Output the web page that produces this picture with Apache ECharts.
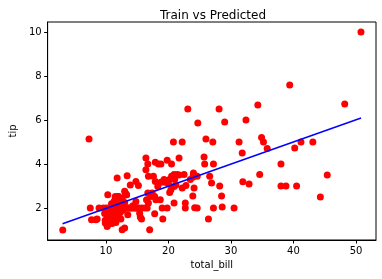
<!DOCTYPE html>
<html><head><meta charset="utf-8">
<script src="https://cdn.jsdelivr.net/npm/echarts@6/dist/echarts.min.js"></script>
<style>html,body{margin:0;padding:0;background:#fff}#c{width:382px;height:279px}</style>
</head><body><div id="c"></div>
<script>
var totalBill = [50.8,39.4,48.2,34.3,23.1,28.1,32.4,24.7,29.0,26.0,34.9,35.2,31.3,27.1,20.8,22.2,41.2,43.1,35.8,40.2,31.8,25.7,21.7,16.4,38.0,25.8,27.2,20.5,16.7,19.8,17.9,18.4,18.8,34.6,45.4,31.9,32.9,38.0,38.8,40.5,44.3,30.5,27.2,28.6,26.4,28.5,28.2,26.6,26.9,24.0,24.1,23.9,24.2,24.6,22.7,22.7,20.9,20.9,22.8,22.2,22.5,24.0,24.6,20.9,19.0,19.8,19.1,17.0,12.6,13.0,17.8,15.5,15.7,13.5,12.4,3.1,7.3,7.5,7.7,8.6,8.9,10.3,11.8,13.4,13.9,14.8,15.2,13.0,11.5,12.6,16.4,16.8,17.6,17.9,18.3,18.8,19.4,19.7,20.1,20.5,21.4,20.4,20.2,21.2,17.4,17.8,18.0,18.7,16.7,17.2,16.5,16.8,16.2,16.6,14.9,15.2,15.7,9.6,9.8,9.9,9.9,10.1,10.2,10.2,10.3,10.4,10.5,10.6,10.7,10.8,10.9,11.0,11.1,11.2,11.3,11.4,11.5,11.6,11.7,11.9,12.0,12.2,12.3,12.5,12.7,12.9,13.1,13.4,13.6,13.9,14.1,14.4,14.7,10.4,10.9,11.3,12.1,12.5,13.0,14.3,11.0,11.6,12.0,13.3,15.4,14.8,8.4,11.5,12.0,13.1,13.3,21.7,23.5,23.9,19.3,20.0,21.0];
var tipValue  = [10.0,7.59,6.73,6.68,6.5,6.5,6.0,5.86,5.91,5.14,5.2,5.0,5.0,5.0,5.0,5.0,5.0,5.0,4.7,4.73,4.5,4.32,4.27,4.27,4.0,4.0,4.0,4.0,4.0,4.17,4.08,4.0,4.0,3.53,3.5,3.2,3.09,3.0,3.0,3.0,2.5,2.0,2.0,2.05,1.5,2.55,3.0,3.44,3.14,3.59,2.91,2.55,2.02,2.0,2.23,2.0,2.23,2.98,3.02,2.91,3.52,3.52,3.44,3.52,2.0,2.0,1.5,1.02,1.02,1.09,1.74,1.59,1.5,1.7,1.5,1.0,5.14,2.0,1.47,1.5,2.0,2.6,3.36,3.47,3.05,3.21,3.02,2.76,2.53,2.45,3.74,3.44,3.44,3.21,2.98,3.17,3.17,3.21,3.29,3.44,3.52,2.83,2.71,3.05,2.68,2.53,2.38,2.38,2.68,2.53,2.38,2.23,2.0,2.0,2.0,2.0,2.0,2.0,1.75,1.45,1.32,2.0,1.66,1.16,1.5,1.25,2.0,1.6,1.83,2.0,1.5,1.7,2.0,1.44,1.83,2.0,1.56,2.2,1.75,2.0,1.58,2.0,1.8,2.0,1.9,2.0,2.0,2.0,2.0,2.0,2.0,2.0,2.0,1.9,2.2,2.3,2.2,2.3,2.25,2.1,1.3,1.35,2.53,2.6,1.77,2.3,1.47,2.45,2.53,2.68,2.6,3.5,3.3,3.4,3.3,3.1,3.3];
var lineBill = [3.07, 50.81];
var lineTip = [1.29, 6.09];
var xTicks = [10, 20, 30, 40, 50];
var yTicks = [2, 4, 6, 8, 10];

var pts = totalBill.map(function(x, i){ return [x, tipValue[i]]; });
var linePts = lineBill.map(function(x, i){ return [x, lineTip[i]]; });
var font = 'DejaVu Sans';
var chart = echarts.init(document.getElementById('c'), null, {renderer:'canvas'});
chart.setOption({
  animation: false,
  backgroundColor: '#fff',
  title: {text: 'Train vs Predicted', left: 208, top: 5, textAlign: 'center',
    textStyle: {fontFamily: font, fontSize: 12, fontWeight: 'normal', color: '#000'}},
  grid: {left: 41, right: 6, top: 22, bottom: 39, show: true, borderColor: '#000', borderWidth: 1, backgroundColor: '#fff'},
  xAxis: {type: 'value', min: 0.68, max: 53.2, name: 'total_bill', nameLocation: 'middle', nameGap: 20,
    nameTextStyle: {fontFamily: font, fontSize: 10, color: '#000'},
    axisLine: {show: true, lineStyle: {color: '#000', width: 1}},
    axisTick: {show: true, length: 3.5, inside: false, customValues: xTicks, lineStyle: {color: '#000'}},
    axisLabel: {customValues: xTicks, margin: 6, fontFamily: font, fontSize: 10, color: '#000'},
    splitLine: {show: false}},
  yAxis: {type: 'value', min: 0.55, max: 10.45, name: 'tip', nameLocation: 'middle', nameGap: 25, nameRotate: 90,
    nameTextStyle: {fontFamily: font, fontSize: 10, color: '#000'},
    axisLine: {show: true, lineStyle: {color: '#000', width: 1}},
    axisTick: {show: true, length: 3.5, inside: false, customValues: yTicks, lineStyle: {color: '#000'}},
    axisLabel: {customValues: yTicks, margin: 6, fontFamily: font, fontSize: 10, color: '#000'},
    splitLine: {show: false}},
  series: [
    {type: 'scatter', data: pts, symbolSize: 7, itemStyle: {color: '#ff0000', opacity: 1}},
    {type: 'line', data: linePts, showSymbol: false, symbol: 'none', lineStyle: {color: '#0000ff', width: 1.5}, z: 3}
  ]
});
</script></body></html>
